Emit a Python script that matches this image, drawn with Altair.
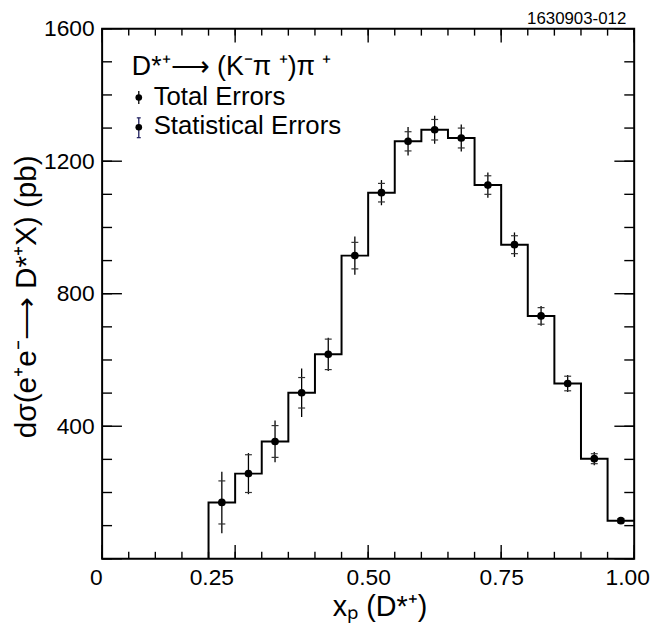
import altair as alt
import pandas as pd

# ---------------- data ----------------
xp_center = [0.225, 0.275, 0.325, 0.375, 0.425, 0.475, 0.525, 0.575,
             0.625, 0.675, 0.725, 0.775, 0.825, 0.875, 0.925, 0.975]
sigma_pb = [170, 257, 354, 501, 617, 915, 1105, 1260,
            1295, 1270, 1128, 948, 733, 529, 302, 115]
err_total = [93, 62, 63, 73, 50, 58, 38, 43, 42, 41, 38, 37, 30, 26, 20, 8]
err_stat = [65, 57, 48, 46, 46, 40, 28, 29, 31, 30, 28, 27, 25, 22, 15, 6]
bin_width = 0.05

x_label_values = [0, 0.25, 0.5, 0.75, 1.0]
x_minor_ticks = [0.0, 0.05, 0.1, 0.15, 0.2, 0.25, 0.3, 0.35, 0.4, 0.45, 0.5,
                 0.55, 0.6, 0.65, 0.7, 0.75, 0.8, 0.85, 0.9, 0.95, 1.0]
y_label_values = [400, 800, 1200, 1600]
y_major_ticks = [0, 400, 800, 1200, 1600]
y_minor_ticks = [0, 100, 200, 300, 400, 500, 600, 700, 800, 900, 1000, 1100,
                 1200, 1300, 1400, 1500, 1600]

legend_title = "D*⁺⟶ (K⁻π ⁺)π ⁺"
legend_total = "Total Errors"
legend_stat = "Statistical Errors"
figure_id = "1630903-012"
x_title = "xₚ (D*⁺)"
y_title = "dσ(e⁺e⁻⟶ D*⁺X) (pb)"

# ---------------- tables ----------------
pts = pd.DataFrame({"x": xp_center, "y": sigma_pb})
pts["tlo"] = pts["y"] - pd.Series(err_total)
pts["thi"] = pts["y"] + pd.Series(err_total)
pts["slo"] = pts["y"] - pd.Series(err_stat)
pts["shi"] = pts["y"] + pd.Series(err_stat)

edges = [c - bin_width / 2 for c in xp_center]
hist = pd.DataFrame({
    "x": [edges[0]] + edges + [xp_center[-1] + bin_width / 2],
    "y": [0] + sigma_pb + [sigma_pb[-1]],
})
hist["i"] = range(len(hist))

xmaj = pd.DataFrame({"t": x_label_values})
xmin = pd.DataFrame({"t": x_minor_ticks})
ymaj = pd.DataFrame({"t": y_major_ticks})
ymin = pd.DataFrame({"t": y_minor_ticks})

W, H = 537, 535
FONT = "Liberation Sans"

xs = alt.Scale(domain=[0, 1], nice=False, zero=False)
ys = alt.Scale(domain=[0, 1600], nice=False, zero=False)

xaxis = alt.Axis(
    title=x_title, values=x_label_values, ticks=False, domain=False, grid=False,
    labelExpr="datum.value == 0 ? '0' : format(datum.value, '.2f')",
    labelFont=FONT, labelFontSize=23, labelColor="black", labelPadding=8,
    labelFlush=False, labelOverlap=False,
    labelAlign={"condition": {"test": "datum.value == 0", "value": "right"}, "value": "center"},
    labelOffset={"condition": [{"test": "datum.value == 0.25", "value": -24},
                               {"test": "datum.value == 1", "value": -7}], "value": 0},
    titleFont=FONT, titleFontSize=29, titleFontWeight="normal", titleColor="black",
    titleX=280, titleY=57, titleAlign="center", titleBaseline="alphabetic",
)
yaxis = alt.Axis(
    title=y_title, values=y_label_values, ticks=False, domain=False, grid=False,
    labelExpr="format(datum.value, 'd')",
    labelFont=FONT, labelFontSize=23, labelColor="black", labelPadding=8,
    labelOverlap=False,
    titleFont=FONT, titleFontSize=30, titleFontWeight="normal", titleColor="black",
    titleAngle=270, titleX=-67, titleY=270, titleAlign="center", titleBaseline="alphabetic",
)


def X(f):
    return alt.X(f + ":Q", scale=xs, axis=xaxis)


def Y(f):
    return alt.Y(f + ":Q", scale=ys, axis=yaxis)


layers = []

# histogram outline
layers.append(alt.Chart(hist).mark_line(interpolate="step-after", color="black", strokeWidth=2)
              .encode(x=X("x"), y=Y("y"), order=alt.Order("i:Q")))

# total errors
layers.append(alt.Chart(pts).mark_rule(color="black", strokeWidth=1.3)
              .encode(x=X("x"), y=Y("tlo"), y2=alt.Y2("thi")))
# statistical caps
for f in ["slo", "shi"]:
    layers.append(alt.Chart(pts).mark_rule(color="#333333", strokeWidth=1.2, xOffset=-3.5, x2Offset=3.5)
                  .encode(x=X("x"), x2=alt.X2("x"), y=Y(f)))
# points
layers.append(alt.Chart(pts).mark_circle(size=60, color="black", opacity=1)
              .encode(x=X("x"), y=Y("y")))

# inward ticks
tick_style = dict(color="black", strokeWidth=1.4)
for df, ln in [(xmin, 7), (xmaj, 14)]:
    layers.append(alt.Chart(df).mark_rule(**tick_style)
                  .encode(x=X("t"), y=alt.value(H), y2=alt.value(H - ln)))
    layers.append(alt.Chart(df).mark_rule(**tick_style)
                  .encode(x=X("t"), y=alt.value(0), y2=alt.value(ln)))
for df, ln in [(ymin, 10), (ymaj, 20)]:
    layers.append(alt.Chart(df).mark_rule(**tick_style)
                  .encode(y=Y("t"), x=alt.value(0), x2=alt.value(ln)))
    layers.append(alt.Chart(df).mark_rule(**tick_style)
                  .encode(y=Y("t"), x=alt.value(W), x2=alt.value(W - ln)))

# legend
one = alt.Data(values=[{}])
layers.append(alt.Chart(one).mark_text(text=legend_title, font=FONT, fontSize=27, align="left",
                                       baseline="alphabetic", color="black")
              .encode(x=alt.value(30), y=alt.value(47)))
layers.append(alt.Chart(one).mark_text(text=legend_total, font=FONT, fontSize=26, align="left",
                                       baseline="alphabetic", color="black")
              .encode(x=alt.value(52), y=alt.value(77)))
layers.append(alt.Chart(one).mark_text(text=legend_stat, font=FONT, fontSize=26, align="left",
                                       baseline="alphabetic", color="black")
              .encode(x=alt.value(52), y=alt.value(106)))
layers.append(alt.Chart(one).mark_rule(color="black", strokeWidth=1.3)
              .encode(x=alt.value(37), y=alt.value(63), y2=alt.value(76)))
layers.append(alt.Chart(one).mark_rule(color="#1c1c5c", strokeWidth=1.3)
              .encode(x=alt.value(37), y=alt.value(90), y2=alt.value(110)))
for yy in [90, 110]:
    layers.append(alt.Chart(one).mark_rule(color="#1c1c5c", strokeWidth=1.2)
                  .encode(x=alt.value(35), x2=alt.value(39), y=alt.value(yy)))
for yy in [69.5, 99.5]:
    layers.append(alt.Chart(one).mark_circle(size=45, color="black", opacity=1)
                  .encode(x=alt.value(37), y=alt.value(yy)))

# figure id
layers.append(alt.Chart(one).mark_text(text=figure_id, font=FONT, fontSize=17, align="right",
                                       baseline="alphabetic", color="black")
              .encode(x=alt.value(529), y=alt.value(-5)))

chart = (
    alt.layer(*layers)
    .properties(width=W, height=H, autosize=alt.AutoSizeParams(type="none"),
                padding={"left": 95, "top": 18, "right": 20, "bottom": 66},
                background="white")
    .configure_view(stroke="black", strokeWidth=2)
)

chart.save("out.html", embed_options={"renderer": "svg", "actions": False})
